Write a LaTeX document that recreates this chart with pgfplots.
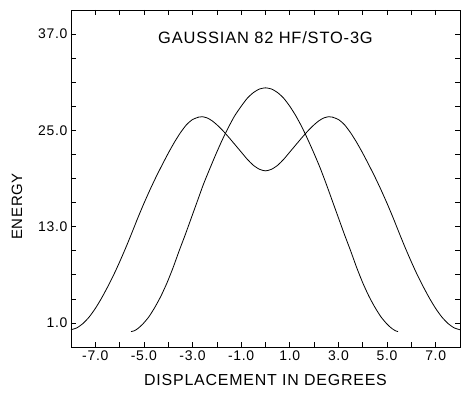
\documentclass[border=0pt]{standalone}
\usepackage{fontspec}
\setmainfont{Liberation Sans}
\newfontfamily\pf[LetterSpace=5]{Liberation Sans}
\usepackage{pgfplots}
\pgfplotsset{compat=1.18}
\begin{document}
\begin{tikzpicture}
\begin{axis}[
  scale only axis,
  width=389bp, height=337bp,
  xmin=-8, xmax=8, ymin=-2, ymax=40,
  axis line style={line width=0.8bp},
  tick style={line width=0.7bp, black},
  tick align=inside,
  major tick length=5bp, minor tick length=5bp,
  xtick={-7,-5,-3,-1,1,3,5,7},
  xticklabels={-7.0,-5.0,-3.0,-1.0,1.0,3.0,5.0,7.0},
  minor xtick={-6,-4,-2,0,2,4,6},
  ytick={1,13,25,37},
  yticklabels={1.0,13.0,25.0,37.0},
  minor ytick={4,7,10,16,19,22,28,31,34},
  ticklabel style={font=\pf\fontsize{14}{16}\selectfont},
  xticklabel style={yshift=-0.5bp},
  xlabel={DISPLACEMENT IN DEGREES},
  xlabel style={at={(axis description cs:0.5,0)}, anchor=center, yshift=-33bp, font=\pf\fontsize{16}{18}\selectfont},
  ylabel={ENERGY},
  ylabel style={at={(axis description cs:-0.1388,0.417)}, anchor=center, rotate=0, font=\pf\fontsize{15}{17}\selectfont},
  clip=false,
]
% curve with two maxima
\addplot[black, line width=0.8bp, smooth, tension=0.4] coordinates {
(-8.0,0.15) (-7.75,0.4) (-7.5,0.95) (-7.25,1.75) (-7.0,2.8) (-6.75,4.05) (-6.5,5.45)
(-6.25,6.95) (-6.0,8.6) (-5.75,10.35) (-5.5,12.2) (-5.25,14.1) (-5.0,15.9) (-4.75,17.6)
(-4.5,19.2) (-4.25,20.7) (-4.0,22.15) (-3.75,23.5) (-3.5,24.7) (-3.25,25.7) (-3.0,26.35)
(-2.75,26.65) (-2.6,26.7) (-2.4,26.55) (-2.2,26.2) (-2.0,25.7) (-1.75,24.95) (-1.5,24.1)
(-1.25,23.2) (-1.0,22.3) (-0.75,21.4) (-0.5,20.65) (-0.25,20.15) (0,19.95)
(0.25,20.15) (0.5,20.65) (0.75,21.4) (1.0,22.3) (1.25,23.2) (1.5,24.1) (1.75,24.95)
(2.0,25.7) (2.2,26.2) (2.4,26.55) (2.6,26.7) (2.75,26.65) (3.0,26.35) (3.25,25.7)
(3.5,24.7) (3.75,23.5) (4.0,22.15) (4.25,20.7) (4.5,19.2) (4.75,17.6) (5.0,15.9)
(5.25,14.1) (5.5,12.2) (5.75,10.35) (6.0,8.6) (6.25,6.95) (6.5,5.45) (6.75,4.05)
(7.0,2.8) (7.25,1.75) (7.5,0.95) (7.75,0.4) (8.0,0.15)
};
% single-peak curve
\addplot[black, line width=0.8bp, smooth, tension=0.4] coordinates {
(-5.53,-0.08) (-5.4,0.02) (-5.25,0.3) (-5.05,0.85) (-4.8,1.75) (-4.55,2.95) (-4.3,4.35)
(-4.05,6.0) (-3.8,7.9) (-3.55,10.0) (-3.3,12.0) (-3.05,14.1) (-2.8,16.2) (-2.55,18.3)
(-2.28,20.3) (-2.03,22.1) (-1.78,23.8) (-1.52,25.4) (-1.27,26.8) (-1.0,28.0) (-0.75,29.0)
(-0.5,29.7) (-0.25,30.15) (0,30.3) (0.25,30.15) (0.5,29.7) (0.75,29.0) (1.0,28.0)
(1.25,26.8) (1.5,25.4) (1.75,23.8) (2.0,22.1) (2.25,20.3) (2.5,18.3) (2.75,16.2)
(3.0,14.1) (3.25,12.0) (3.5,10.0) (3.75,7.9) (4.0,6.0) (4.25,4.35) (4.5,2.95)
(4.75,1.75) (5.0,0.85) (5.2,0.3) (5.35,0.02) (5.45,-0.08)
};
\node[font=\pf\fontsize{16.5}{18}\selectfont] at (axis cs:0,36.6) {GAUSSIAN 82 HF/STO-3G};
\coordinate (sw) at (rel axis cs:0,0);
\coordinate (ne) at (rel axis cs:1,1);
\end{axis}
\pgfresetboundingbox
\path ([shift={(-71bp,-46bp)}]sw) rectangle ([shift={(1bp,10bp)}]ne);
\end{tikzpicture}
\end{document}
